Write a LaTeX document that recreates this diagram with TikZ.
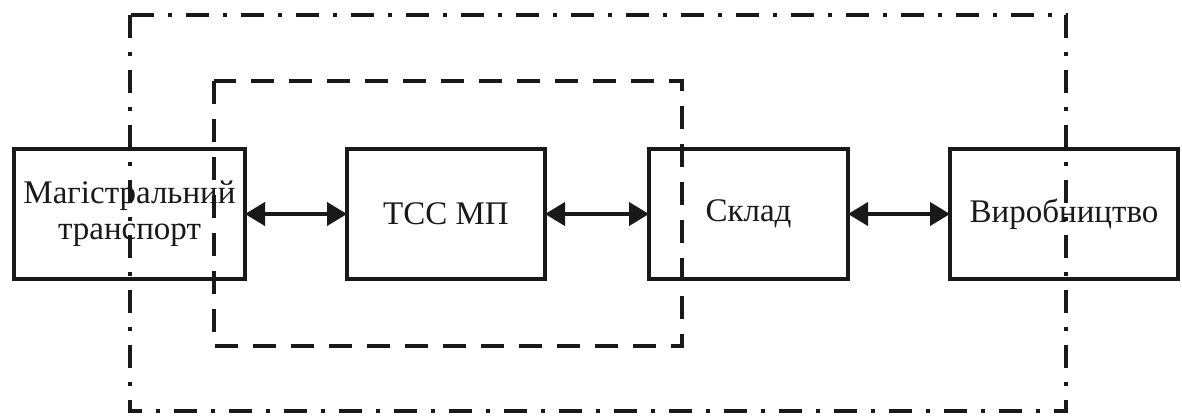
\documentclass[tikz,border=0pt]{standalone}
\usepackage{fontspec}
\setmainfont{Liberation Serif}
\usetikzlibrary{arrows.meta}
\begin{document}
\begin{tikzpicture}[x=1pt,y=-1pt,
  blockbox/.style={draw=black!90, line width=4pt, rectangle, minimum height=130pt, inner sep=0pt,
    align=center, font=\fontsize{33}{36}\selectfont, text=black!90},
  link/.style={line width=4pt, draw=black!90, {Triangle[length=20pt,width=23pt]}-{Triangle[length=20pt,width=23pt]}, shorten <=-2pt, shorten >=-2pt},
  dashbox/.style={line width=4pt, draw=black!90, dash pattern=on 23pt off 15pt},
  dotbox/.style={line width=4pt, draw=black!90, dash pattern=on 23pt off 14pt on 4pt off 14pt}]
\useasboundingbox (0,0) rectangle (1182,416);
\node[blockbox, minimum width=231pt] (mt) at (129.5,214) {Магістральний\\транспорт};
\node[blockbox, minimum width=198pt] (tss) at (446,214) {ТСС МП};
\node[blockbox, minimum width=199pt] (skl) at (748.5,214) {Склад};
\node[blockbox, minimum width=228pt] (vyr) at (1064,214) {Виробництво};
\draw[link] (mt.east) -- (tss.west);
\draw[link] (tss.east) -- (skl.west);
\draw[link] (skl.east) -- (vyr.west);
\draw[dashbox] (214,81) rectangle (682,346);
\draw[dotbox] (130,15) rectangle (1066,411);
\end{tikzpicture}
\end{document}
